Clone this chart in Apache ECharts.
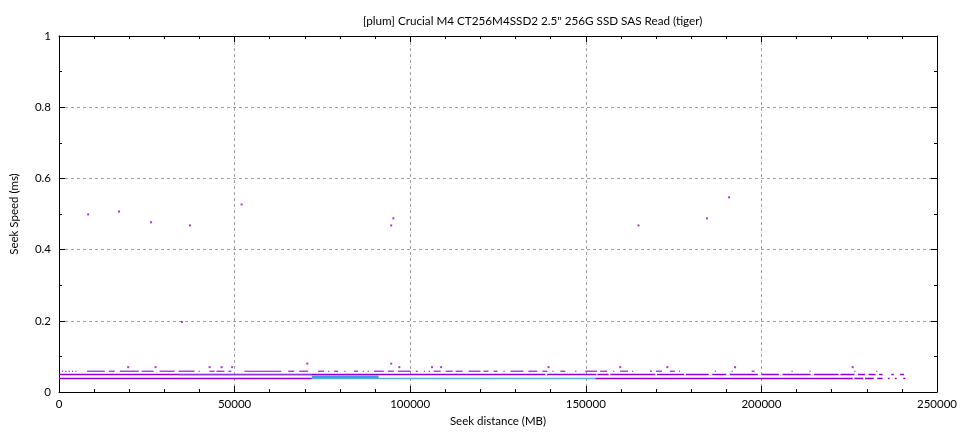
<!DOCTYPE html>
<html><head><meta charset="utf-8">
<script src="https://cdn.jsdelivr.net/npm/echarts@6/dist/echarts.min.js"></script>
<style>html,body{margin:0;padding:0;background:#fff}#c{width:960px;height:432px}</style>
</head><body><div id="c"></div>
<script>
const titleText = '[plum] Crucial M4 CT256M4SSD2 2.5" 256G SSD SAS Read (tiger)';
const xName = 'Seek distance (MB)';
const yName = 'Seek Speed (ms)';
const xMin = 0, xMax = 250000, xStep = 50000;
const yMin = 0, yMax = 1, yStep = 0.2;

// isolated slow seeks [distance MB, ms]
const outliers = [[8300,0.499],[17100,0.507],[26200,0.477],[37300,0.468],[35000,0.197],[52000,0.527],[95200,0.488],[94600,0.468],[165000,0.468],[184500,0.488],[190800,0.547]];
// scattered dots just above the main bands
const highDots = [[19700,0.070],[27500,0.070],[42900,0.070],[46300,0.070],[49300,0.070],[70700,0.080],[94600,0.080],[96900,0.070],[106200,0.070],[108800,0.070],[139400,0.070],[159800,0.070],[173200,0.070],[192500,0.070],[226000,0.070]];
// upper dotted row (~0.0587 ms): [start MB, end MB]
const rowY = 0.0587;
const rowRuns = [[850,850],[1790,1790],[2750,2750],[3690,3690],[4630,4630],[7950,13050],[14190,15890],[17310,22700],[23550,26960],[28660,32920],[34050,38590],[39730,40010],[42850,44270],[44840,47110],[48240,49090],[52780,63280],[65270,66970],[68390,70940],[73780,75480],[76620,76620],[78320,79460],[81240,81240],[84000,85130],[86460,86460],[87880,87880],[89670,92510],[93640,95350],[96480,100170],[101590,102160],[103860,103860],[105280,105280],[106700,108680],[110100,112090],[112940,114930],[116630,120030],[120890,122300],[123720,124860],[126560,126560],[128550,132240],[133650,136210],[137630,139040],[140470,140470],[142740,144150],[146990,146990],[149830,153230],[154090,156070],[157770,157770],[159760,162030],[163170,163170],[168280,168840],[169980,171690],[173950,175370],[176500,176500],[186720,186720],[191540,191830],[197220,198070],[208570,208570],[213680,213680],[226450,226450],[232690,232690]];
// main band 1 (~0.0494 ms)
const band1Y = 0.0494;
const band1Runs = [[0,138500],[139000,153000],[153300,156500],[157000,169800],[170300,178000],[178500,185000],[186000,190000],[191000,199000],[200000,205000],[206000,214000],[215000,222000],[222500,226500],[227500,229500],[230500,232500],[233500,234500],[237000,237700],[239500,240600]];
// main band 2 (~0.0383 ms)
const band2Y = 0.0383;
const band2Runs = [[0,72000],[152700,226000],[226500,229000],[229500,232000],[233000,234500],[236000,236500],[238000,238500],[240400,241000]];
// denser (blue) parts of the bands
const lightY = 0.0470;
const lightRuns = [[34000,72000]];
const blobY = 0.0432;
const blobRuns = [[72000,91000]];
const blue2Runs = [[72000,152700]];

const chart = echarts.init(document.getElementById('c'), null, {renderer:'canvas'});

function segSeries(name, runs, y, color, h){
  return {
    name, type:'custom', xAxisIndex:0, yAxisIndex:0,
    data: runs.map(r => [r[0], r[1], y]),
    encode:{x:[0,1], y:2},
    clip:true,
    renderItem:(params, api) => {
      const a = api.coord([api.value(0), api.value(2)]);
      const b = api.coord([api.value(1), api.value(2)]);
      let w = b[0]-a[0]; if (w < 1.2) w = 1.2;
      return {type:'rect', shape:{x:a[0], y:a[1]-h/2, width:w, height:h}, style:{fill:color}};
    },
    z:3, silent:true, animation:false
  };
}

const fontFam = 'Lato, "Noto Sans", sans-serif';
const fmt = v => String(v);
const baseAxis = {
  type:'value', min:xMin, max:xMax, interval:xStep,
  axisLine:{show:true, onZero:false, lineStyle:{color:'#000', width:1}},
  axisTick:{show:true, inside:true, length:6, lineStyle:{color:'#000'}},
  minorTick:{show:true, splitNumber:5, length:3, lineStyle:{color:'#000'}},
};
const purple = '#9400d3';

chart.setOption({
  animation:false,
  backgroundColor:'#fff',
  title:{text:titleText, left:358, top:10,
    textStyle:{fontSize:11.7, fontWeight:'normal', color:'#000', fontFamily:fontFam}},
  grid:{left:57, right:22, top:36, bottom:39, containLabel:false, show:false},
  xAxis:[
    Object.assign({}, baseAxis, {position:'bottom', name:xName, nameLocation:'middle', nameGap:22,
      nameTextStyle:{fontSize:11.5, color:'#000', fontFamily:fontFam},
      axisLabel:{show:true, margin:6, fontSize:11.5, color:'#000', fontFamily:fontFam, formatter:fmt},
      splitLine:{show:true, lineStyle:{color:'#a0a0a0', type:[3,3], width:1}}}),
    Object.assign({}, baseAxis, {position:'top', axisLabel:{show:false}, splitLine:{show:false}})
  ],
  yAxis:[
    Object.assign({}, baseAxis, {min:yMin, max:yMax, interval:yStep, position:'left',
      minorTick:{show:true, splitNumber:2, length:3, lineStyle:{color:'#000'}},
      name:yName, nameLocation:'middle', nameGap:39, nameRotate:90,
      nameTextStyle:{fontSize:11.5, color:'#000', fontFamily:fontFam},
      axisLabel:{show:true, margin:8, fontSize:11.5, color:'#000', fontFamily:fontFam, formatter:fmt},
      splitLine:{show:true, lineStyle:{color:'#a0a0a0', type:[3,3], width:1}}}),
    Object.assign({}, baseAxis, {min:yMin, max:yMax, interval:yStep, position:'right',
      minorTick:{show:true, splitNumber:2, length:3, lineStyle:{color:'#000'}},
      axisLabel:{show:false}, splitLine:{show:false}})
  ],
  series:[
    segSeries('row', rowRuns, rowY, purple, 1.1),
    segSeries('band1', band1Runs, band1Y, purple, 1.5),
    segSeries('band2', band2Runs, band2Y, purple, 1.5),
    segSeries('light', lightRuns, lightY, '#86c8ea', 1.3),
    segSeries('blob', blobRuns, blobY, '#3d9bd9', 2.6),
    segSeries('blue2', blue2Runs, band2Y, '#5ea9df', 1.5),
    {name:'high', type:'scatter', data:highDots, symbol:'rect', symbolSize:2, itemStyle:{color:purple}, z:4, silent:true},
    {name:'outliers', type:'scatter', data:outliers, symbol:'rect', symbolSize:2, itemStyle:{color:purple}, z:4, silent:true}
  ]
});
</script></body></html>
